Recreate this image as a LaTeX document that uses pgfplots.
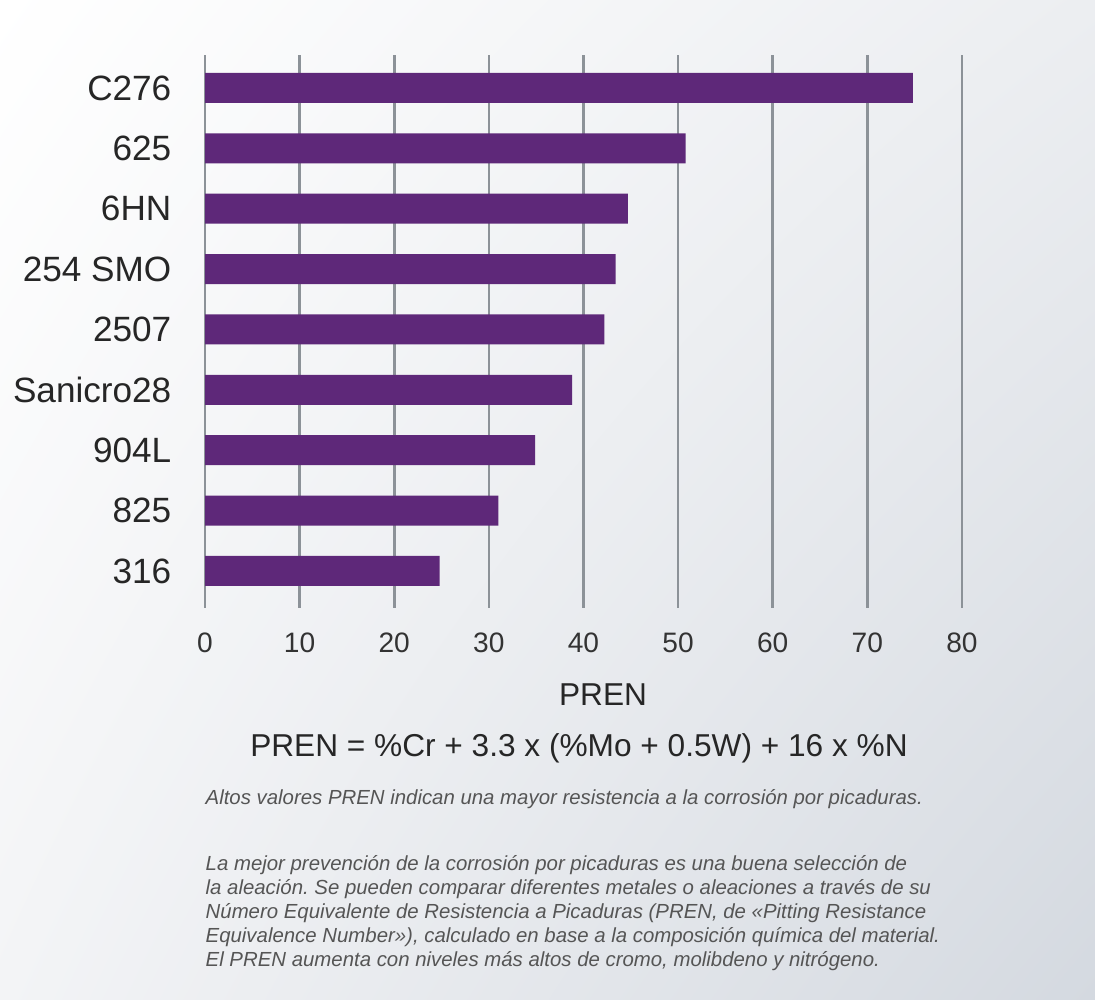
\documentclass[border=0pt]{standalone}
\usepackage{pgfplots}
\pgfplotsset{compat=1.18}
\usetikzlibrary{shadings}
\usepackage{fontspec}
\setmainfont{Liberation Sans}
\frenchspacing

\definecolor{barpurple}{HTML}{5E2879}
\definecolor{gridgray}{HTML}{8C9298}
\definecolor{notegray}{HTML}{555555}
\definecolor{bgtr}{RGB}{236,238,241}
\definecolor{bgbl}{RGB}{243,244,246}
\definecolor{bgbr}{RGB}{212,217,224}

\begin{document}
\begin{tikzpicture}
    % background, white top left to grey-blue bottom right
    \shade[upper left=white, upper right=bgtr, lower left=bgbl, lower right=bgbr]
        (0,0) rectangle (10.95,10);
    \begin{axis}[
        at={(2.05cm,3.92cm)}, anchor=south west,
        scale only axis,
        width=7.57cm,
        height=5.53cm,
        xbar,
        bar width=0.3cm,
        xmin=0, xmax=80,
        ymin=-0.613, ymax=8.546,
        xtick={0,10,...,80},
        ytick={0,...,8},
        yticklabels={316,825,904L,Sanicro28,2507,254 SMO,6HN,625,C276},
        xmajorgrids,
        major grid style={gridgray, line width=0.75pt},
        axis line style={draw=none},
        tick style={draw=none},
        /pgf/number format/assume math mode=true,
        xticklabel style={font=\fontsize{8}{10}\selectfont, text=black!80,
            anchor=center, yshift=-0.35cm},
        yticklabel style={font=\fontsize{10}{12}\selectfont, text=black!85,
            anchor=east, inner sep=0pt, xshift=-0.18cm},
    ]
        \addplot[draw=none, fill=barpurple] coordinates {
            (24.8,0) (31.0,1) (34.9,2) (38.8,3) (42.2,4)
            (43.4,5) (44.7,6) (50.8,7) (74.8,8)
        };
    \end{axis}
    \node[font=\fontsize{9}{11}\selectfont, text=black!85] at (6.03,3.05) {PREN};
    \node[font=\fontsize{9}{11}\selectfont, text=black!85] at (5.79,2.52)
        {PREN = \%Cr + 3.3 x (\%Mo + 0.5W) + 16 x \%N};
    \node[anchor=west, inner sep=0pt, font=\fontsize{5.8}{6.83}\selectfont\itshape, text=notegray]
        at (2.05,2.01) {Altos valores PREN indican una mayor resistencia a la corrosión por picaduras.};
    \node[anchor=north west, inner sep=0pt, align=left,
          font=\fontsize{5.8}{6.83}\selectfont\itshape, text=notegray] at (2.05,1.45)
        {La mejor prevención de la corrosión por picaduras es una buena selección de\\
         la aleación. Se pueden comparar diferentes metales o aleaciones a través de su\\
         Número Equivalente de Resistencia a Picaduras (PREN, de «Pitting Resistance\\
         Equivalence Number»), calculado en base a la composición química del material.\\
         El PREN aumenta con niveles más altos de cromo, molibdeno y nitrógeno.};
    \pgfresetboundingbox
    \path[use as bounding box] (0,0) rectangle (10.95,10);
\end{tikzpicture}
\end{document}
